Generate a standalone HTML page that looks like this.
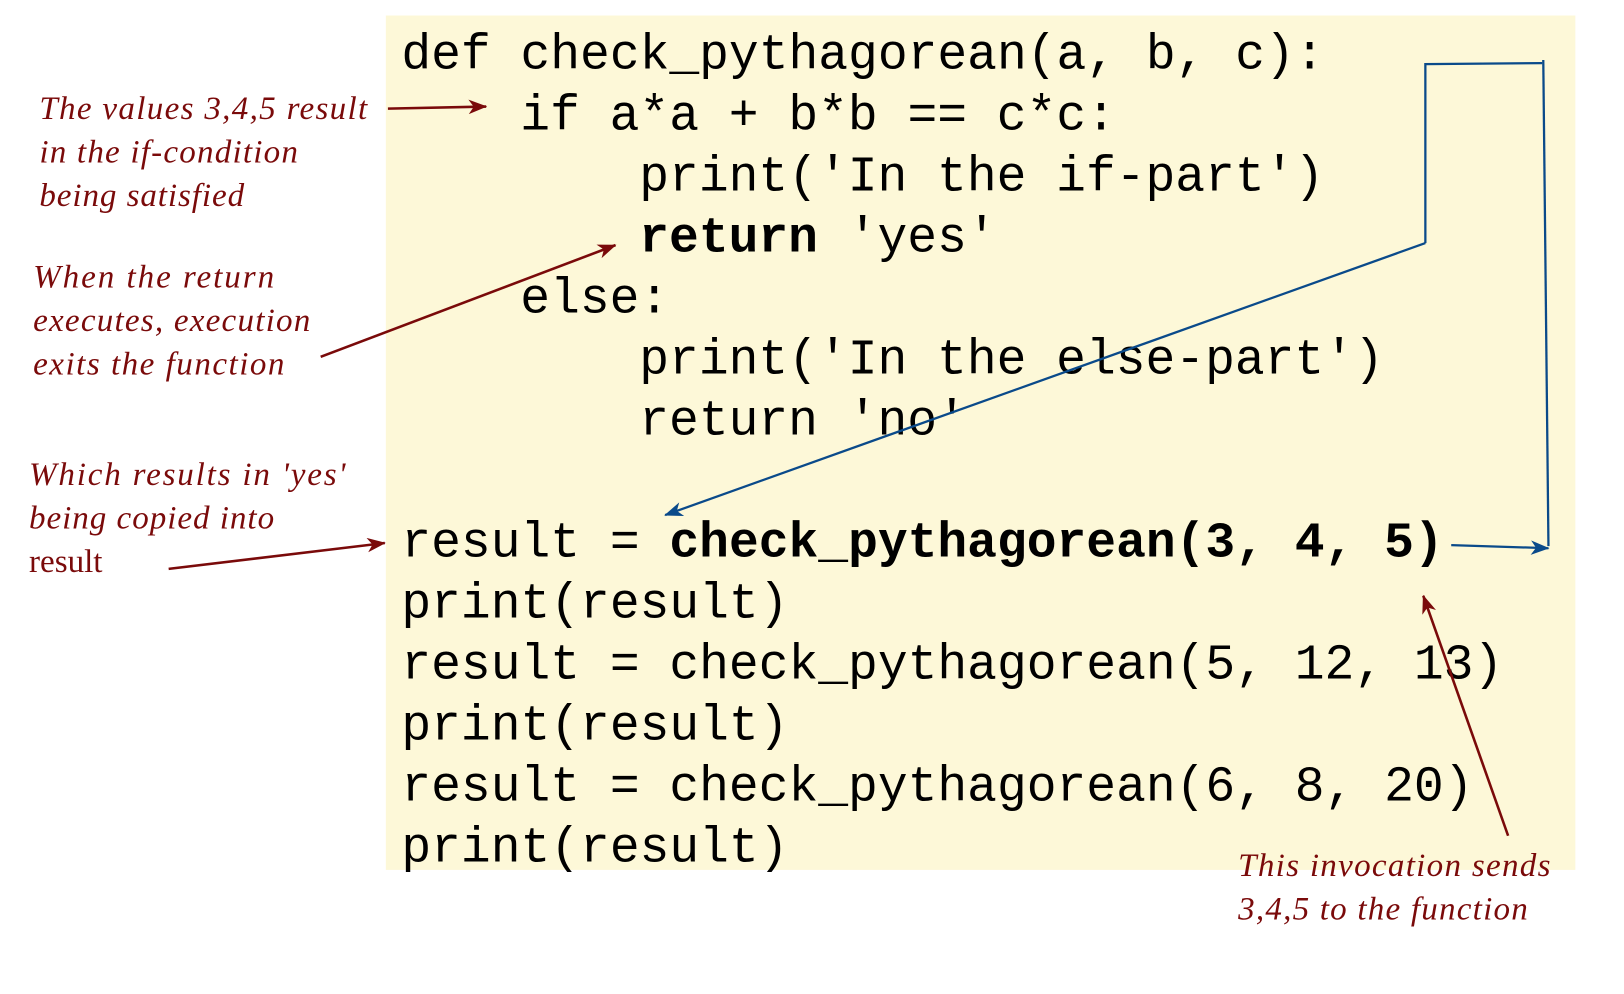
<!DOCTYPE html>
<html><head><meta charset="utf-8"><style>html,body{margin:0;padding:0;background:#fff}svg{display:block}text{white-space:pre}</style></head>
<body>
<svg width="1624" height="994" viewBox="0 0 1570 961" xmlns="http://www.w3.org/2000/svg">
<defs>
<marker id="r" markerWidth="18" markerHeight="14" refX="17" refY="7" orient="auto" markerUnits="userSpaceOnUse"><path d="M0,0 L18,7 L0,14 L5,7 z" fill="#7a0a0a"/></marker>
<marker id="b" markerWidth="18" markerHeight="14" refX="17" refY="7" orient="auto" markerUnits="userSpaceOnUse"><path d="M0,0 L18,7 L0,14 L5,7 z" fill="#0a4a8a"/></marker>
</defs>
<rect x="373" y="15" width="1150" height="826" fill="#fdf8d8"/>
<g font-family="Liberation Mono, monospace" font-size="48" fill="#000">
<text x="388" y="66">def check_pythagorean(a, b, c):</text>
<text x="503" y="125">if a*a + b*b == c*c:</text>
<text x="618" y="184">print('In the if-part')</text>
<text x="618" y="243"><tspan font-weight="bold">return</tspan> 'yes'</text>
<text x="503" y="302">else:</text>
<text x="618" y="361">print('In the else-part')</text>
<text x="618" y="420">return 'no'</text>
<text x="388" y="538">result = <tspan font-weight="bold">check_pythagorean(3, 4, 5)</tspan></text>
<text x="388" y="597">print(result)</text>
<text x="388" y="656">result = check_pythagorean(5, 12, 13)</text>
<text x="388" y="715">print(result)</text>
<text x="388" y="774">result = check_pythagorean(6, 8, 20)</text>
<text x="388" y="833">print(result)</text>
</g>
<g font-family="Liberation Serif, serif" font-style="italic" font-size="32" fill="#7a0a0a">
<text x="38" y="115" textLength="317">The values 3,4,5 result</text>
<text x="38" y="157" textLength="250">in the if-condition</text>
<text x="38" y="199" textLength="198">being satisfied</text>
<text x="32" y="278" textLength="233">When the return</text>
<text x="32" y="320" textLength="268">executes, execution</text>
<text x="32" y="362" textLength="243">exits the function</text>
<text x="28" y="469" textLength="306">Which results in 'yes'</text>
<text x="28" y="511" textLength="237">being copied into</text>
<text x="28" y="553" font-style="normal">result</text>
<text x="1197" y="847" textLength="302">This invocation sends</text>
<text x="1197" y="889" textLength="280">3,4,5 to the function</text>
</g>
<g stroke="#7a0a0a" stroke-width="2.5" fill="none">
<line x1="375" y1="105" x2="470" y2="103" marker-end="url(#r)"/>
<line x1="310" y1="345" x2="595" y2="237" marker-end="url(#r)"/>
<line x1="163" y1="550" x2="372" y2="525" marker-end="url(#r)"/>
<line x1="1458" y1="808" x2="1376" y2="576" marker-end="url(#r)"/>
</g>
<g stroke="#0a4a8a" stroke-width="2.2" fill="none">
<polyline points="1378,235 1378,62 1491,61"/>
<line x1="1492" y1="58" x2="1497" y2="528"/>
<line x1="1403" y1="527" x2="1497" y2="530" marker-end="url(#b)"/>
<line x1="1378" y1="235" x2="643" y2="498" marker-end="url(#b)"/>
</g>
</svg>
</body></html>
